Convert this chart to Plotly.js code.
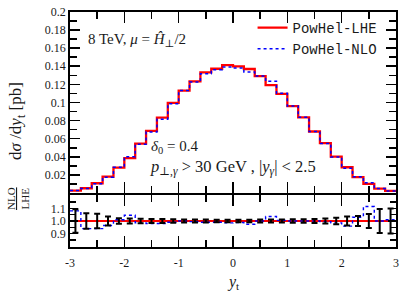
<!DOCTYPE html>
<html>
<head>
<meta charset="utf-8">
<script src="https://cdn.plot.ly/plotly-3.0.1.min.js"></script>
<style>html,body{margin:0;padding:0;background:#fff;}#chart{width:415px;height:299px;}</style>
</head>
<body>
<div id="chart"></div>
<script>
// Bin edges of the y_t histogram
const binEdges = [-3.0,-2.8,-2.6,-2.4,-2.2,-2.0,-1.8,-1.6,-1.4,-1.2,-1.0,-0.8,-0.6,-0.4,-0.2,0.0,
                  0.2,0.4,0.6,0.8,1.0,1.2,1.4,1.6,1.8,2.0,2.2,2.4,2.6,2.8,3.0];
// PowHel-LHE  dsigma/dy_t [pb]
const lhe = [0.0025,0.0052,0.0107,0.0180,0.0280,0.0384,0.0546,0.0687,0.0832,0.0995,
             0.1132,0.1233,0.1332,0.1373,0.1413,0.1399,0.1370,0.1292,0.1192,0.1096,
             0.0960,0.0836,0.0679,0.0550,0.0402,0.0284,0.0174,0.0100,0.0048,0.0022];
// PowHel-NLO  dsigma/dy_t [pb]
const nlo = [0.0027,0.0049,0.0101,0.0174,0.0283,0.0400,0.0538,0.0673,0.0815,0.0985,
             0.1132,0.1227,0.1318,0.1362,0.1392,0.1382,0.1337,0.1292,0.1235,0.1101,
             0.0960,0.0836,0.0679,0.0547,0.0396,0.0273,0.0179,0.0112,0.0048,0.0022];
// NLO / LHE ratio per bin
const ratio = [1.08,0.94,0.94,0.965,1.01,1.045,0.985,0.98,0.98,0.99,
               1.0,0.995,0.99,0.99,0.985,0.988,0.975,1.0,1.035,1.005,
               1.0,1.0,1.0,0.995,0.985,0.96,1.03,1.115,1.0,1.01];
// statistical uncertainty of the ratio (half width)
const ratioErr = [0.093,0.062,0.057,0.035,0.022,0.020,0.018,0.016,0.015,0.013,
                  0.012,0.011,0.011,0.010,0.010,0.010,0.010,0.011,0.011,0.012,
                  0.013,0.014,0.016,0.020,0.025,0.036,0.040,0.055,0.095,0.098];
const xTickVals = [-3,-2,-1,0,1,2,3];
const xTickText = ['-3','-2','-1','0','1','2','3'];
const yTickVals = [0.02,0.04,0.06,0.08,0.1,0.12,0.14,0.16,0.18,0.2];
const yTickText = ['0.02','0.04','0.06','0.08','0.1','0.12','0.14','0.16','0.18','0.2'];
const rTickVals = [0.9,1.0,1.1];
const rTickText = ['0.9','1.0','1.1'];

function stepY(v){ return v.concat([v[v.length-1]]); }
const centers = binEdges.slice(0,-1).map((e,i)=>(e+binEdges[i+1])/2);
const lheSelf = lhe.map(v=>v/v);

const serif = 'Liberation Serif, DejaVu Serif, serif';
const txt = '#1a1a1a';

const traces = [
  {x: binEdges, y: stepY(lhe), mode:'lines', line:{shape:'hv', color:'#ff0000', width:2.3},
   name:'PowHel-LHE', xaxis:'x', yaxis:'y'},
  {x: binEdges, y: stepY(nlo), mode:'lines', line:{shape:'hv', color:'#0000ff', width:1.5, dash:'dot'},
   name:'PowHel-NLO', xaxis:'x', yaxis:'y'},
  {x: binEdges, y: stepY(lheSelf), mode:'lines', line:{shape:'hv', color:'#ff0000', width:2},
   showlegend:false, xaxis:'x2', yaxis:'y2'},
  {x: binEdges, y: stepY(ratio), mode:'lines', line:{shape:'hv', color:'#0000ff', width:1.4, dash:'dot'},
   showlegend:false, xaxis:'x2', yaxis:'y2'},
  {x: centers, y: lheSelf, mode:'markers', marker:{size:1, color:'#000'},
   error_y:{type:'data', array: ratioErr, visible:true, color:'#000', thickness:2, width:3},
   showlegend:false, xaxis:'x2', yaxis:'y2'}
];

const axBase = {showline:true, linecolor:'#000', linewidth:1.8, mirror:'ticks', ticks:'inside',
                tickcolor:'#000', tickwidth:1.6, zeroline:false, showgrid:false,
                tickfont:{family:serif, size:12, color:txt}};
const minorX = {dtick:0.5, tick0:0, ticks:'inside', ticklen:7, tickwidth:1.6, tickcolor:'#000'};

const layout = {
  width:415, height:299,
  margin:{l:70, r:19, t:12, b:52},
  paper_bgcolor:'#fff', plot_bgcolor:'#fff',
  showlegend:true,
  legend:{x:0.56, y:1.0, xanchor:'left', yanchor:'top', bgcolor:'rgba(0,0,0,0)',
          font:{family:'Liberation Mono, DejaVu Sans Mono, monospace', size:14, color:txt},
          tracegroupgap:0, itemwidth:30},
  xaxis: Object.assign({}, axBase, {domain:[0,1], anchor:'y', range:[-3,3],
          tickvals:xTickVals, ticktext:xTickText, ticklen:11,
          tickfont:{family:serif, size:12, color:'rgba(0,0,0,0)'},
          minor:minorX}),
  yaxis: Object.assign({}, axBase, {domain:[0.23,1], anchor:'x', range:[0,0.2],
          tickvals:yTickVals, ticktext:yTickText, ticklen:10,
          minor:{dtick:0.01, tick0:0, ticks:'inside', ticklen:7, tickwidth:1.6, tickcolor:'#000'}}),
  xaxis2: Object.assign({}, axBase, {domain:[0,1], anchor:'y2', range:[-3,3],
          tickvals:xTickVals, ticktext:xTickText, ticklen:11, ticklabelstandoff:4,
          minor:minorX}),
  yaxis2: Object.assign({}, axBase, {domain:[0,0.2223], anchor:'x2', range:[0.795,1.207],
          tickvals:rTickVals, ticktext:rTickText, ticklen:8,
          minor:{dtick:0.05, tick0:0, ticks:'inside', ticklen:6, tickwidth:1.6, tickcolor:'#000'}}),
  annotations:[
    {xref:'paper', yref:'paper', x:(86-70)/326, y:(247-40)/235, xanchor:'left', yanchor:'middle',
     showarrow:false, text:'8 TeV, <i>μ</i> = <i>Ĥ</i><sub>⊥</sub>/2', font:{family:serif, size:15, color:txt}},
    {xref:'paper', yref:'paper', x:(149-70)/326, y:(247-147)/235, xanchor:'left', yanchor:'middle',
     showarrow:false, text:'<i>δ</i><sub>0</sub> = 0.4', font:{family:serif, size:15, color:txt}},
    {xref:'paper', yref:'paper', x:(148-70)/326, y:(247-167)/235, xanchor:'left', yanchor:'middle',
     showarrow:false, text:'<i>p</i><sub>⊥,<i>γ</i></sub> > 30 GeV , |<i>y</i><sub><i>γ</i></sub>| < 2.5',
     font:{family:serif, size:16.5, color:txt}},
    {xref:'paper', yref:'paper', x:(17-70)/326, y:(247-121)/235, xanchor:'center', yanchor:'middle',
     showarrow:false, textangle:-90, text:'d<i>σ</i> /d<i>y</i><sub>t</sub> [pb]',
     font:{family:serif, size:17, color:txt}},
    {xref:'paper', yref:'paper', x:(18-70)/326, y:(247-199)/235, xanchor:'center', yanchor:'middle',
     showarrow:false, textangle:-90, text:'<u>NLO</u><br>LHE',
     font:{family:serif, size:11, color:txt}},
    {xref:'paper', yref:'paper', x:(233-70)/326, y:(247-282)/235, xanchor:'center', yanchor:'middle',
     showarrow:false, text:'<i>y</i><sub>t</sub>', font:{family:serif, size:16, color:txt}}
  ]
};

Plotly.newPlot('chart', traces, layout, {staticPlot:true, displayModeBar:false});
</script>
</body>
</html>
